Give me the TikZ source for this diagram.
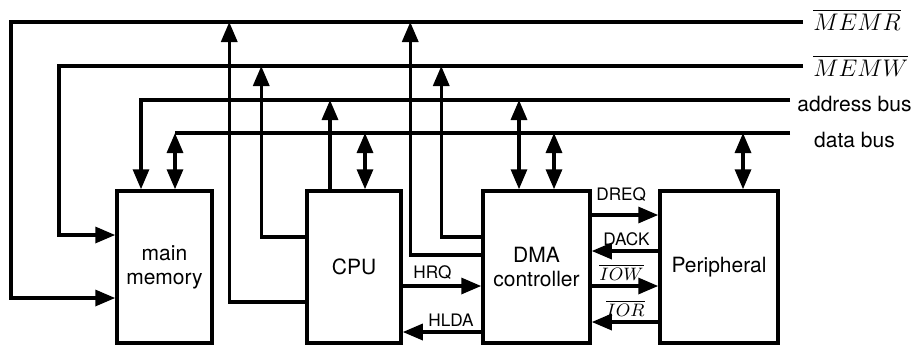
\documentclass[tikz,border=0pt]{standalone}
\usepackage{amsmath}
\usepackage{fontspec}
\setmainfont{TeX Gyre Heros}
\usepackage{tikz}
\usetikzlibrary{arrows.meta,positioning}

\begin{document}
\begin{tikzpicture}[x=0.5pt,y=-0.5pt,>={Triangle[length=10pt,width=8pt]}]
\tikzstyle{unit}=[draw=black,line width=1.75pt,minimum height=76pt,align=center,inner sep=0pt,font=\fontsize{10.5}{12}\selectfont]
\tikzstyle{sig}=[line width=1.65pt]
\tikzstyle{lbl}=[inner sep=0pt,font=\fontsize{8.6}{10}\selectfont]
\tikzstyle{buslbl}=[inner sep=0pt,font=\fontsize{10.5}{12}\selectfont]
\useasboundingbox (0,0) rectangle (914,345);
\node[unit,minimum width=47.5pt] (mem) at (164.5,267) {main\\memory};
\node[unit,minimum width=47pt] (cpu) at (354,267) {CPU};
\node[unit,minimum width=53.5pt] (dma) at (536.5,267) {DMA\\controller};
\node[unit,minimum width=59pt] (per) at (719,267) {Peripheral};
\coordinate (rdL) at (11,22);
\coordinate (rdR) at (803,22);
\coordinate (wrL) at (59,66);
\coordinate (wrR) at (803,66);
\coordinate (adL) at (141,100);
\coordinate (adR) at (790,100);
\coordinate (daL) at (175,133);
\coordinate (daR) at (790,133);
\node[buslbl,anchor=west,xshift=5pt,yshift=1pt,font=\fontsize{11.5}{13}\selectfont] (rdlbl) at (rdR) {$\overline{MEMR}$};
\node[buslbl,anchor=west,xshift=5pt,yshift=0pt,font=\fontsize{11.5}{13}\selectfont] (wrlbl) at (wrR) {$\overline{MEMW}$};
\node[buslbl,anchor=west,xshift=3.5pt,yshift=-2pt] (adlbl) at (adR) {address bus};
\node[buslbl,yshift=-3.5pt] (dalbl) at (adlbl.center |- daR) {data bus};
\draw[sig,->] (rdR) -- (rdL) |- ([yshift=-15.5pt]mem.west);
\draw[sig,->] (wrR) -- (wrL) |- ([yshift=16pt]mem.west);
\draw[sig,->] (adR) -- (adL) -- (adL |- mem.north);
\draw[sig] (daR) -- (daL);
\draw[sig,<->] (daL) -- (daL |- mem.north);
\draw[sig,->] ([yshift=15pt]cpu.west) -| ([xshift=-22pt]cpu.west |- wrL);
\draw[sig,->] ([yshift=-17.5pt]cpu.west) -| ([xshift=-38pt]cpu.west |- rdL);
\draw[sig,->] ([xshift=-12pt]cpu.north) -- ([xshift=-12pt]cpu.north |- adL);
\draw[sig,<->] ([xshift=5.5pt]cpu.north) -- ([xshift=5.5pt]cpu.north |- daL);
\draw[sig,->] ([yshift=15pt]dma.west) -| ([xshift=-20pt]dma.west |- wrL);
\draw[sig,->] ([yshift=6pt]dma.west) -| ([xshift=-35.5pt]dma.west |- rdL);
\draw[sig,<->] ([xshift=-8.75pt]dma.north) -- ([xshift=-8.75pt]dma.north |- adL);
\draw[sig,<->] ([xshift=8.75pt]dma.north) -- ([xshift=8.75pt]dma.north |- daL);
\draw[sig,<->] ([xshift=12pt]per.north) -- ([xshift=12pt]per.north |- daL);
\draw[sig,->] ([yshift=-9.5pt]cpu.east) -- node[lbl,pos=0,anchor=south west,xshift=4.5pt,yshift=2.5pt] {HRQ} ([yshift=-9.5pt]dma.west);
\draw[sig,->] ([yshift=-32.5pt]dma.west) -- node[lbl,pos=0,anchor=south east,xshift=-3pt,yshift=1.75pt] {HLDA} ([yshift=-32.5pt]cpu.east);
\draw[sig,->] ([yshift=26pt]dma.east) -- node[lbl,pos=0,anchor=south west,xshift=1.5pt,yshift=6pt] {DREQ} ([yshift=26pt]per.west);
\draw[sig,->] ([yshift=8pt]per.west) -- node[lbl,pos=0,anchor=south east,xshift=-3.5pt,yshift=2pt] {DACK} ([yshift=8pt]dma.east);
\draw[sig,->] ([yshift=-9.5pt]dma.east) -- node[lbl,pos=0,anchor=south west,xshift=3pt,yshift=2pt,font=\fontsize{9.5}{11}\selectfont] {$\overline{IOW}$} ([yshift=-9.5pt]per.west);
\draw[sig,->] ([yshift=-27.5pt]per.west) -- node[lbl,pos=0,anchor=south east,xshift=-6pt,yshift=2pt,font=\fontsize{9.5}{11}\selectfont] {$\overline{IOR}$} ([yshift=-27.5pt]dma.east);
\end{tikzpicture}
\end{document}
